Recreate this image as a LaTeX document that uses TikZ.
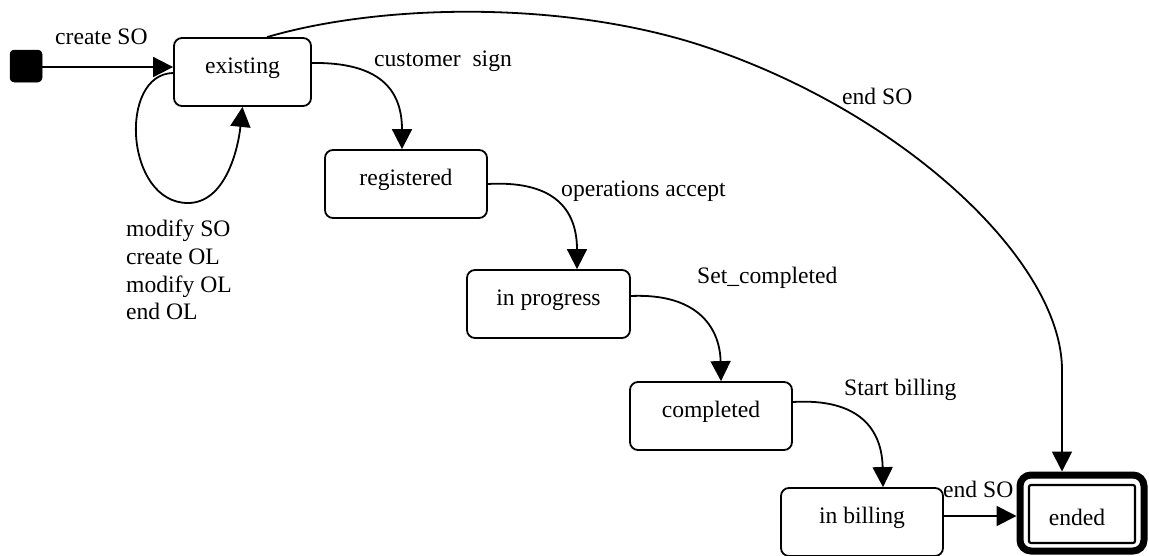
\documentclass[tikz,border=0pt]{standalone}
\usepackage{fontspec}
\setmainfont{Liberation Serif}
\usetikzlibrary{arrows.meta}
\begin{document}
\begin{tikzpicture}[x=1pt,y=-1pt,
  font=\fontsize{23.6}{27.6}\selectfont,
  state/.style={draw,line width=1.8pt,rounded corners=8pt,minimum width=162pt,minimum height=68pt,inner sep=0pt,text height=8pt,text depth=6pt},
  initstate/.style={fill=black,draw,line width=0.5pt,rounded corners=4pt,minimum size=32pt,inner sep=0pt},
  finalouter/.style={draw,line width=7pt,rounded corners=11pt,minimum width=124pt,minimum height=76pt,inner sep=0pt},
  finalinner/.style={draw,line width=2.2pt,rounded corners=2pt,minimum width=106pt,minimum height=58pt,inner sep=0pt,text height=22pt,text depth=0pt},
  trans/.style={line width=1.8pt,-{Triangle[length=20pt,width=20pt]}},
  lbl/.style={anchor=base west,inner sep=0pt}]
\useasboundingbox (0,0) rectangle (1149,555);

% states
\node[initstate] (init) at (26,66) {};
\node[state,minimum width=137pt] (existing) at (242.5,72) {existing};
\node[state] (registered) at (406,184) {registered};
\node[state,minimum width=163pt] (inprogress) at (548.5,304) {in progress};
\node[state] (completed) at (711,416) {completed};
\node[state] (inbilling) at (862,522) {in billing};
\node[finalouter] (ended) at (1082,513) {};
\node[finalinner] (endedtxt) at (1082,514) {\hspace*{-10pt}ended};

% transitions
\draw[trans] ([yshift=-1pt]init.east) -- ([yshift=5pt]existing.west);
\draw[trans] ([yshift=-1pt]existing.west) .. controls (118,74) and (125,203) .. (188,203)
   .. controls (225,203) and (238,150) .. (existing.south);
\draw[trans] ([yshift=9pt]existing.east) .. controls (380,62) and (402,90) .. ([xshift=-4pt]registered.north);
\draw[trans] (registered.east) .. controls (560,180) and (577,215) .. ([xshift=28.5pt]inprogress.north);
\draw[trans] ([yshift=8pt]inprogress.east) .. controls (700,293) and (720,330) .. ([xshift=10pt]completed.north);
\draw[trans] ([yshift=14pt]completed.east) .. controls (860,398) and (882,430) .. ([xshift=21pt]inbilling.north);
\draw[trans] ([yshift=6pt]inbilling.east) -- ([yshift=-3pt]ended.west);
\draw[trans] ([xshift=24.5pt]existing.north) .. controls (380,4) and (560,0) .. (700,45)
   .. controls (900,110) and (1062,260) .. (1062,370) -- ([xshift=-20pt]ended.north);

% labels
\node[lbl] (lcreate) at (55,44) {create SO};
\node[lbl] (lcust) at (374,66) {customer\ \ sign};
\node[lbl] (lops) at (561,196) {operations accept};
\node[lbl] (lset) at (697,283) {Set\_completed};
\node[lbl] (lstart) at (844,395) {Start billing};
\node[lbl] (lend1) at (943,497) {end SO};
\node[lbl] (lend2) at (842,104) {end SO};
\node[anchor=north west,inner sep=0pt,align=left] (lloop) at (126,220) {modify SO\\create OL\\modify OL\\end OL};
\end{tikzpicture}
\end{document}
